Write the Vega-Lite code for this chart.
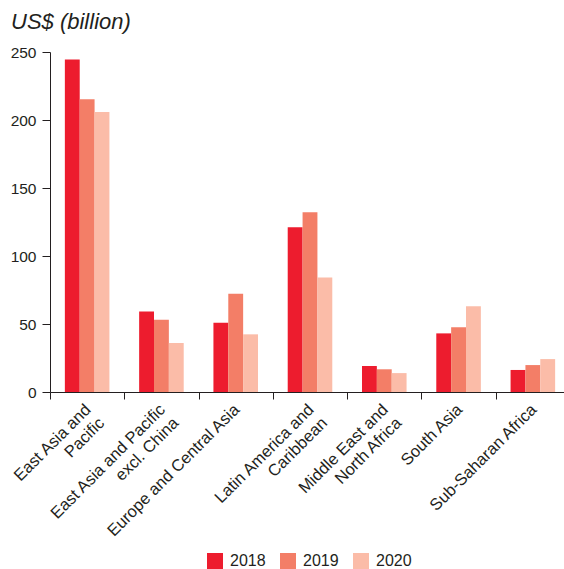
{
  "$schema": "https://vega.github.io/schema/vega-lite/v6.json",
  "width": 520,
  "height": 340,
  "autosize": {"type": "none"},
  "padding": {"left": 50, "top": 52, "right": 0, "bottom": 177},
  "title": {
    "text": "US$ (billion)",
    "anchor": "start",
    "frame": "group",
    "dx": -39,
    "offset": 11,
    "font": "Liberation Sans",
    "fontStyle": "italic",
    "fontWeight": "normal",
    "fontSize": 22,
    "color": "#231f20"
  },
  "data": {
    "values": [
      {"region": "East Asia and Pacific", "year": "2018", "value": 244.5},
      {"region": "East Asia and Pacific", "year": "2019", "value": 215.2},
      {"region": "East Asia and Pacific", "year": "2020", "value": 205.8},
      {"region": "East Asia and Pacific excl. China", "year": "2018", "value": 59.1},
      {"region": "East Asia and Pacific excl. China", "year": "2019", "value": 53.2},
      {"region": "East Asia and Pacific excl. China", "year": "2020", "value": 36.1},
      {"region": "Europe and Central Asia", "year": "2018", "value": 50.9},
      {"region": "Europe and Central Asia", "year": "2019", "value": 72.2},
      {"region": "Europe and Central Asia", "year": "2020", "value": 42.4},
      {"region": "Latin America and Caribbean", "year": "2018", "value": 121.1},
      {"region": "Latin America and Caribbean", "year": "2019", "value": 132.2},
      {"region": "Latin America and Caribbean", "year": "2020", "value": 84.2},
      {"region": "Middle East and North Africa", "year": "2018", "value": 19.1},
      {"region": "Middle East and North Africa", "year": "2019", "value": 16.7},
      {"region": "Middle East and North Africa", "year": "2020", "value": 13.9},
      {"region": "South Asia", "year": "2018", "value": 43.1},
      {"region": "South Asia", "year": "2019", "value": 47.7},
      {"region": "South Asia", "year": "2020", "value": 63.1},
      {"region": "Sub-Saharan Africa", "year": "2018", "value": 16.2},
      {"region": "Sub-Saharan Africa", "year": "2019", "value": 19.8},
      {"region": "Sub-Saharan Africa", "year": "2020", "value": 24.2}
    ]
  },
  "mark": {"type": "bar"},
  "encoding": {
    "x": {
      "field": "region",
      "type": "nominal",
      "sort": null,
      "scale": {"paddingInner": 0, "paddingOuter": 0},
      "axis": {
        "title": null,
        "labelAngle": -45,
        "tickBand": "extent",
        "tickSize": 7,
        "labelPadding": 2,
        "labelOffset": -5,
        "labelFont": "Liberation Sans",
        "labelFontSize": 16.5,
        "labelColor": "#231f20",
        "labelLineHeight": 19,
        "tickColor": "#231f20",
        "domainColor": "#231f20",
        "labelExpr": "datum.value == 'East Asia and Pacific' ? ['East Asia and', 'Pacific'] : datum.value == 'East Asia and Pacific excl. China' ? ['East Asia and Pacific', 'excl. China'] : datum.value == 'Latin America and Caribbean' ? ['Latin America and', 'Caribbean'] : datum.value == 'Middle East and North Africa' ? ['Middle East and', 'North Africa'] : datum.label"
      }
    },
    "xOffset": {
      "field": "year",
      "type": "nominal",
      "scale": {"paddingInner": 0, "paddingOuter": 1.095}
    },
    "y": {
      "field": "value",
      "type": "quantitative",
      "scale": {"domain": [0, 250], "nice": false},
      "axis": {
        "title": null,
        "grid": false,
        "values": [0, 50, 100, 150, 200, 250],
        "tickSize": 8,
        "labelPadding": 6,
        "labelFont": "Liberation Sans",
        "labelFontSize": 15.5,
        "labelColor": "#231f20",
        "tickColor": "#231f20",
        "domainColor": "#231f20"
      }
    },
    "color": {
      "field": "year",
      "type": "nominal",
      "scale": {"domain": ["2018", "2019", "2020"], "range": ["#ED1C2E", "#F37E67", "#FBBCA8"]},
      "legend": {
        "title": null,
        "orient": "none",
        "legendX": 157,
        "legendY": 501,
        "direction": "horizontal",
        "symbolType": "square",
        "symbolSize": 256,
        "symbolStrokeWidth": 0,
        "labelFont": "Liberation Sans",
        "labelFontSize": 16,
        "labelColor": "#231f20",
        "labelOffset": 7,
        "columnPadding": 14
      }
    }
  },
  "config": {"view": {"stroke": null}}
}
